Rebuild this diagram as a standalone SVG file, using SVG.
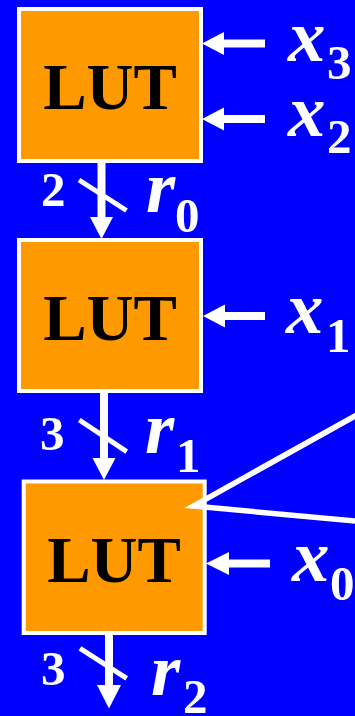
<svg xmlns="http://www.w3.org/2000/svg" width="355" height="716" viewBox="0 0 355 716">
<style>
.box{fill:#FF9900;stroke:#FFFFFF;stroke-width:4}
.lut{font-family:"Liberation Serif",serif;font-weight:bold;font-size:65px;fill:#000000;text-anchor:middle}
.wire{stroke:#FFFFFF;stroke-width:8;fill:none}
.slash{stroke:#FFFFFF;stroke-width:5;fill:none}
.head{fill:#FFFFFF}
.var{font-family:"Liberation Serif",serif;font-weight:bold;font-style:italic;font-size:75px;fill:#FFFFFF}
.sub{font-family:"Liberation Serif",serif;font-weight:bold;font-size:49px;fill:#FFFFFF}
.num{font-family:"Liberation Serif",serif;font-weight:bold;font-size:49px;fill:#FFFFFF}
</style>
<rect x="0" y="0" width="355" height="716" fill="#0000FF"/>
<g id="lut1">
<rect class="box" x="19" y="9" width="182" height="152"/>
<text class="lut" x="110" y="109">LUT</text>
</g>
<g id="lut2">
<rect class="box" x="19" y="240" width="182" height="151"/>
<text class="lut" x="110" y="340">LUT</text>
</g>
<g id="lut3">
<rect class="box" x="23.7" y="481.5" width="181" height="151.5"/>
<text class="lut" x="114" y="582">LUT</text>
</g>
<g id="connectors">
<line class="wire" x1="265" y1="43.5" x2="222" y2="43.5"/>
<polygon class="head" points="202,43.5 224,32 224,55"/>
<line class="wire" x1="265" y1="119" x2="222" y2="119"/>
<polygon class="head" points="202,119 224,107.5 224,130.5"/>
<line class="wire" x1="265" y1="316" x2="222" y2="316"/>
<polygon class="head" points="203,316 225,304.5 225,327.5"/>
<line class="wire" x1="270" y1="563.5" x2="227" y2="563.5"/>
<polygon class="head" points="206,563.5 229,552 229,575"/>
<line class="wire" x1="101.5" y1="163" x2="101.5" y2="219"/>
<polygon class="head" points="101.5,239 90,217 113,217"/>
<line class="slash" x1="79" y1="180" x2="126.5" y2="210.5"/>
<line class="wire" x1="104" y1="393" x2="104" y2="460"/>
<polygon class="head" points="104,480 92.5,458 115.5,458"/>
<line class="slash" x1="79.3" y1="420" x2="126.7" y2="451.7"/>
<line class="wire" x1="109" y1="635" x2="109" y2="687"/>
<polygon class="head" points="109,708.5 97,685 121,685"/>
<line class="slash" x1="80" y1="648.3" x2="126.7" y2="678.3"/>
<polyline points="360,413.2 193.4,506 360,521.5" fill="none" stroke="#FFFFFF" stroke-width="5.5" stroke-linejoin="miter"/>
</g>
<g id="labels">
<text class="var" x="288" y="61">x</text><text class="sub" x="327" y="79">3</text>
<text class="var" x="288" y="136">x</text><text class="sub" x="327" y="153">2</text>
<text class="var" x="286" y="333">x</text><text class="sub" x="326" y="352">1</text>
<text class="var" x="292" y="581">x</text><text class="sub" x="330" y="600">0</text>
<text class="var" x="146" y="212">r</text><text class="sub" x="175" y="232">0</text>
<text class="var" x="145" y="453">r</text><text class="sub" x="176" y="472">1</text>
<text class="var" x="151" y="695">r</text><text class="sub" x="183" y="713">2</text>
<text class="num" x="41" y="206">2</text>
<text class="num" x="40" y="450">3</text>
<text class="num" x="41" y="685">3</text>
</g>
</svg>
